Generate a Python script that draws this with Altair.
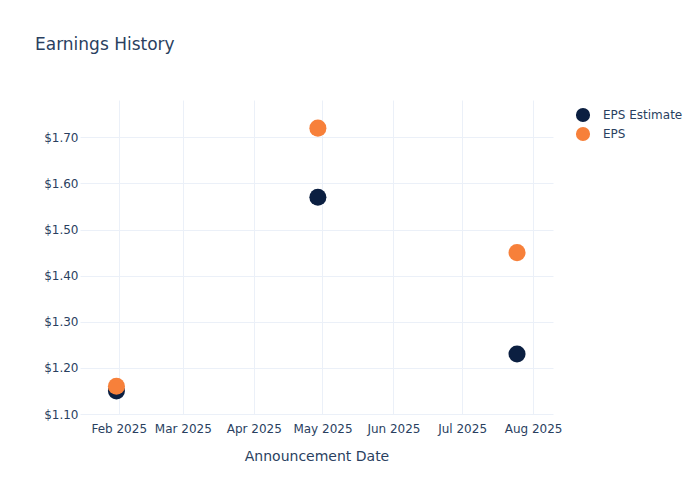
import altair as alt
import pandas as pd

dates = ["2025-01-31", "2025-04-29", "2025-07-25"]
eps_estimate = [1.15, 1.57, 1.23]
eps_actual = [1.16, 1.72, 1.45]
series = ["EPS Estimate", "EPS"]
colors = ["#0b1f41", "#f7803a"]

rows = []
for d, e in zip(dates, eps_estimate):
    rows.append({"date": d, "value": e, "series": "EPS Estimate", "ord": 0})
for d, e in zip(dates, eps_actual):
    rows.append({"date": d, "value": e, "series": "EPS", "ord": 1})
df = pd.DataFrame(rows)

FONT = "DejaVu Sans"
TXT = "#2a3f5f"
GRID = "#ebf0f8"

month_ticks = [alt.DateTime(year=2025, month=m, date=1, utc=True) for m in range(2, 9)]

chart = alt.Chart(df).mark_circle(opacity=1, size=290).encode(
    x=alt.X(
        "date:T",
        title="Announcement Date",
        scale=alt.Scale(
            type="utc",
            domain=[
                alt.DateTime(year=2025, month=1, date=15, hours=2, utc=True),
                alt.DateTime(year=2025, month=8, date=9, hours=17, utc=True),
            ],
        ),
        axis=alt.Axis(
            values=month_ticks,
            labelExpr="utcFormat(datum.value, '%b %Y')",
            grid=True,
            gridColor=GRID,
            domain=False,
            ticks=False,
            labelPadding=9,
            labelFontSize=12,
            labelColor=TXT,
            labelFont=FONT,
            titleFont=FONT,
            titleFontSize=14,
            titleFontWeight="normal",
            titleColor=TXT,
            titlePadding=15,
            labelOverlap=False,
        ),
    ),
    y=alt.Y(
        "value:Q",
        title=None,
        scale=alt.Scale(domain=[1.10, 1.781], nice=False, zero=False),
        axis=alt.Axis(
            values=[1.1, 1.2, 1.3, 1.4, 1.5, 1.6, 1.7],
            format="$.2f",
            grid=True,
            gridColor=GRID,
            domain=False,
            ticks=False,
            labelPadding=2,
            labelFontSize=12,
            labelColor=TXT,
            labelFont=FONT,
        ),
    ),
    color=alt.Color(
        "series:N",
        scale=alt.Scale(domain=series, range=colors),
        legend=alt.Legend(
            title=None,
            orient="none",
            legendX=495,
            legendY=7,
            symbolType="circle",
            symbolSize=200,
            symbolOpacity=1,
            labelFont=FONT,
            labelFontSize=12,
            labelColor=TXT,
            labelOffset=12,
            rowPadding=3,
        ),
    ),
    order=alt.Order("ord:Q"),
).properties(
    width=473,
    height=314,
    title=alt.TitleParams(
        "Earnings History",
        anchor="start",
        frame="group",
        dx=-45,
        offset=46,
        font=FONT,
        fontSize=17,
        fontWeight="normal",
        color=TXT,
    ),
    autosize=alt.AutoSizeParams(type="none"),
    padding={"left": 72, "top": 92, "right": 139, "bottom": 78},
).configure(background="white").configure_view(stroke=None)

chart.save("out.html", embed_options={"renderer": "svg", "actions": False})
